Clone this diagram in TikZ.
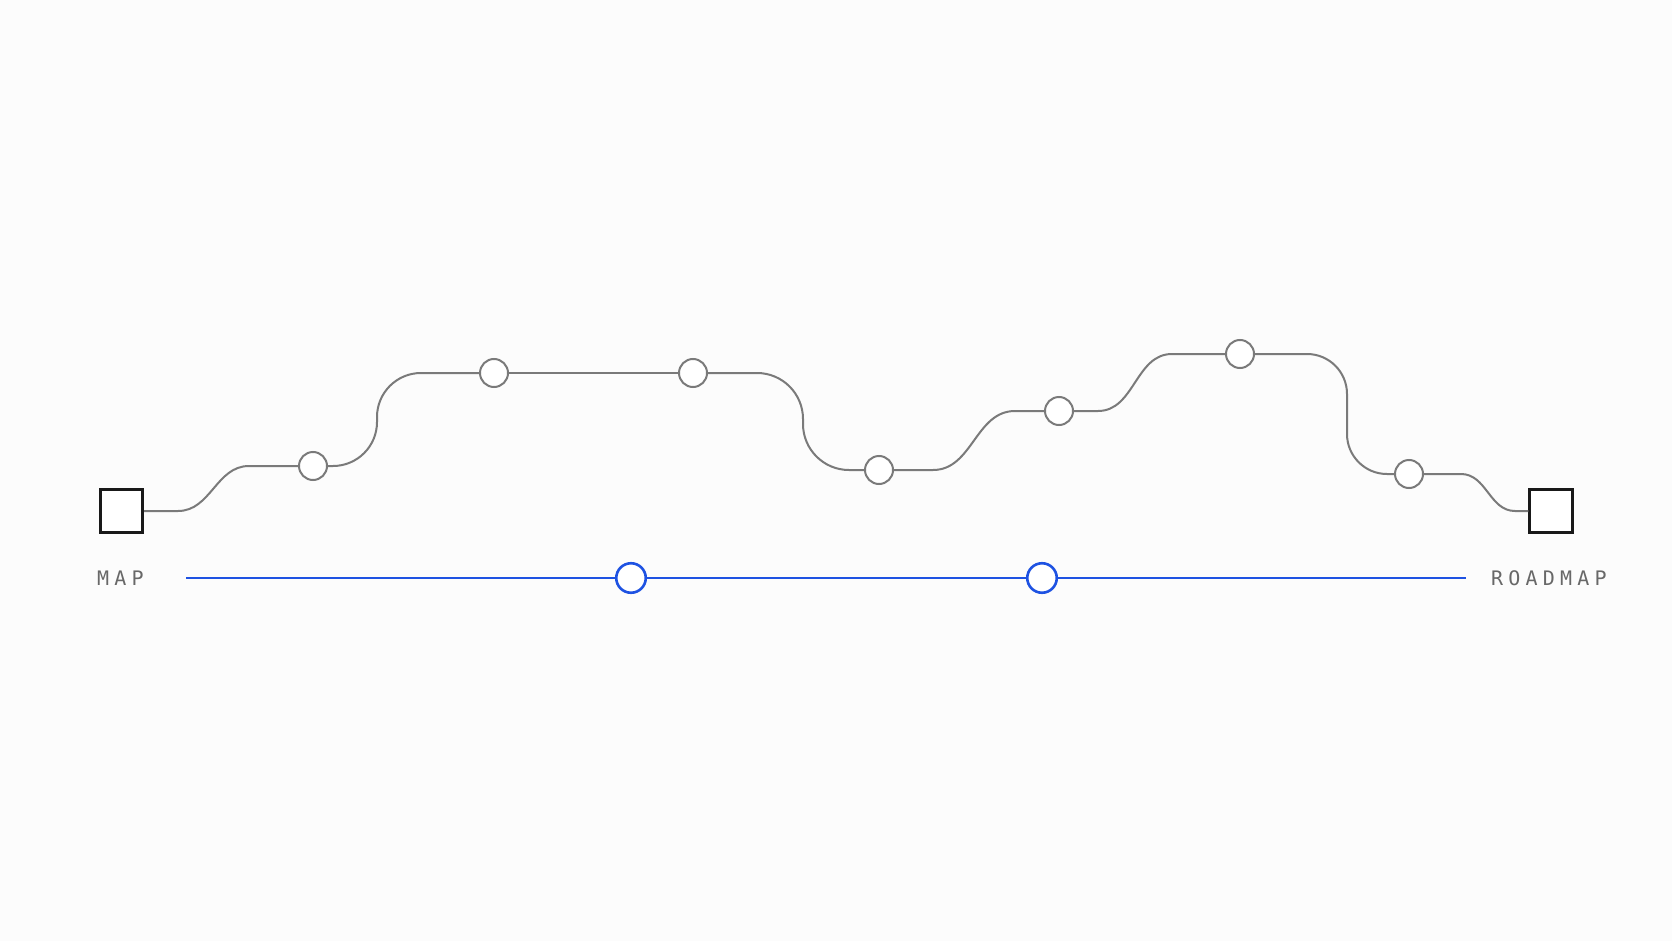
\documentclass[tikz,border=0pt]{standalone}
\usepackage{fontspec}
\newfontfamily\labelfont[LetterSpace=26]{DejaVu Sans Mono}
\definecolor{routegray}{RGB}{122,122,122}
\definecolor{textgray}{RGB}{104,104,104}
\definecolor{planblue}{RGB}{30,82,226}
\definecolor{paper}{RGB}{252,252,252}

\begin{document}
\begin{tikzpicture}[x=1pt,y=-1pt,
    station/.style={circle,draw=routegray,line width=2pt,fill=white,minimum size=28pt,inner sep=0pt},
    milestone/.style={circle,draw=planblue,line width=2.6pt,fill=white,minimum size=29.5pt,inner sep=0pt},
    terminus/.style={rectangle,draw=black!90,line width=2.6pt,fill=white,minimum size=42.5pt,inner sep=0pt},
    route/.style={draw=routegray,line width=2pt},
    plan/.style={draw=planblue,line width=2.6pt},
    tag/.style={text=textgray,inner sep=0pt,font=\labelfont\fontsize{20}{24}\selectfont}]

  \fill[paper] (0,0) rectangle (1672,941);
  \useasboundingbox (0,0) rectangle (1672,941);

  % ends of the route
  \node[terminus] (mapbox) at (121.5,511) {};
  \node[terminus] (roadbox) at (1551,511) {};

  % stops on the winding route
  \node[station] (s1) at (313,466) {};
  \node[station] (s2) at (494,373) {};
  \node[station] (s3) at (693,373) {};
  \node[station] (s4) at (879,470) {};
  \node[station] (s5) at (1059,411) {};
  \node[station] (s6) at (1240,354) {};
  \node[station] (s7) at (1409,474) {};

  \draw[route] (mapbox.east) -- (178,511) to[out=0,in=180] (249,466) -- (s1.west);
  \draw[route,rounded corners=44pt] (s1.east) -- (377,466) -- (377,373) -- (s2.west);
  \draw[route] (s2) -- (s3);
  \draw[route,rounded corners=46pt] (s3.east) -- (803,373) -- (803,470) -- (s4.west);
  \draw[route] (s4.east) -- (933,470) to[out=0,in=180] (1015,411) -- (s5.west);
  \draw[route] (s5.east) -- (1098,411) to[out=0,in=180] (1172,354) -- (s6.west);
  \draw[route,rounded corners=40pt] (s6.east) -- (1347,354) -- (1347,474) -- (s7.west);
  \draw[route] (s7.east) -- (1461,474) to[out=0,in=180] (1515,511) -- (roadbox.west);

  % straight plan below
  \coordinate (planstart) at (186,578);
  \coordinate (planend) at (1466,578);
  \node[milestone] (m1) at (631,578) {};
  \node[milestone] (m2) at (1042,578) {};
  \draw[plan] (planstart) -- (m1) -- (m2) -- (planend);

  \node[tag,anchor=west] (maplabel) at (97,578) {MAP};
  \node[tag,anchor=west] (roadlabel) at (1491,578) {ROADMAP};
\end{tikzpicture}
\end{document}
